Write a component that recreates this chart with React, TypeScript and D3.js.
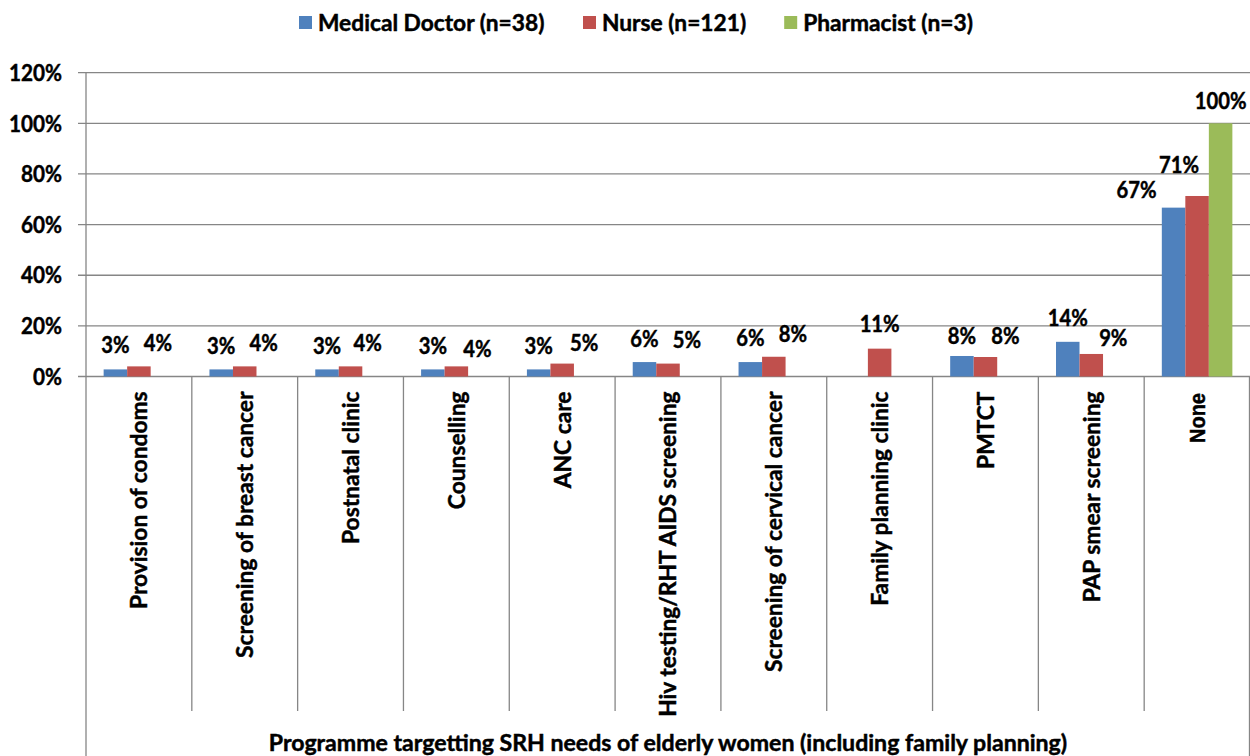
import React, { useMemo } from "react";
import * as d3 from "d3";

const categories = [
  "Provision of condoms",
  "Screening of breast cancer",
  "Postnatal clinic",
  "Counselling",
  "ANC care",
  "Hiv testing/RHT AIDS screening",
  "Screening of cervical cancer",
  "Family planning clinic",
  "PMTCT",
  "PAP smear screening",
  "None",
];
const seriesNames = ["Medical Doctor (n=38)", "Nurse (n=121)", "Pharmacist (n=3)"];
const doctorValues = [0.028, 0.028, 0.028, 0.028, 0.028, 0.057, 0.057, 0, 0.081, 0.137, 0.667];
const nurseValues = [0.04, 0.04, 0.04, 0.04, 0.051, 0.051, 0.078, 0.11, 0.077, 0.089, 0.713];
const pharmacistValues = [0, 0, 0, 0, 0, 0, 0, 0, 0, 0, 1.0];
const yTicks = [0, 0.2, 0.4, 0.6, 0.8, 1.0, 1.2];
const axisTitle = "Programme targetting SRH needs of elderly women (including family planning)";

// manual label nudges (as in the source chart)
const doctorLabelDx = [0, 0, 0, 0, 0, 0, 0, 0, 0, 0, -37];
const doctorLabelDy = [-25, -24.5, -24.5, -24.5, -24.5, -24, -24.5, 0, -21, -25, -18];
const nurseLabelDx = [19, 19, 17, 21, 22, 19, 19, 0, 20, 22, -18];
const nurseLabelDy = [-24, -24, -24.7, -18.7, -21.6, -24.6, -23.3, -25.2, -22, -16.7, -32];
const pharmLabelDx = [0, 0, 0, 0, 0, 0, 0, 0, 0, 0, 0];
const pharmLabelDy = [0, 0, 0, 0, 0, 0, 0, 0, 0, 0, -23.4];

const colors = ["#4F81BD", "#C0504D", "#9BBB59"];
const FONT = "Lato";
const TEXT_H = 22;

function measure(text: string, family: string, size: number) {
  const c = document.createElement("canvas").getContext("2d");
  if (!c) return text.length * size * 0.5;
  c.font = `bold ${size}px ${family}`;
  return c.measureText(text).width;
}

type TProps = {
  x: number;
  y: number;
  sx: number;
  rot?: number;
  anchor?: "start" | "middle" | "end";
  family?: string;
  size?: number;
  children: string;
};
function T({ x, y, sx, rot = 0, anchor = "middle", family = FONT, size = TEXT_H, children }: TProps) {
  return (
    <text
      transform={`translate(${x},${y}) rotate(${rot}) scale(${sx},1)`}
      textAnchor={anchor}
      dominantBaseline="central"
      fontSize={size}
      fontFamily={family}
      fontWeight="bold"
      fill="#000"
      stroke="#000"
      strokeWidth={0.45}
    >
      {children}
    </text>
  );
}

export default function App() {
  const W = 1250;
  const H = 756;
  const left = 86;
  const right = 1250;
  const y0 = 376.5;
  const yTop = 72.7;

  const sc = useMemo(
    () => ({
      tick: 53 / measure("120%", FONT, TEXT_H),
      label: 40 / measure("11%", FONT, TEXT_H),
      legend: 227 / measure("Medical Doctor (n=38)", FONT, TEXT_H),
      cat: 218 / measure("Provision of condoms", FONT, TEXT_H),
      title: 801 / measure(axisTitle, FONT, TEXT_H),
      none: 50 / measure("None", "Liberation Sans", 22),
    }),
    []
  );

  const legendWidths = useMemo(
    () => seriesNames.map((s) => measure(s, FONT, TEXT_H) * sc.legend),
    [sc]
  );

  const x = d3.scaleBand<string>().domain(categories).range([left, right]).paddingInner(0).paddingOuter(0);
  const bw = x.bandwidth();
  const groupW = (bw * 3) / 4.5;
  const x1 = d3
    .scaleBand<number>()
    .domain([0, 1, 2])
    .range([(bw - groupW) / 2, (bw + groupW) / 2])
    .padding(0);
  const y = d3.scaleLinear().domain([0, 1.2]).range([y0, yTop]);
  const fmt = d3.format(".0%");

  const series = [
    { values: doctorValues, dx: doctorLabelDx, dy: doctorLabelDy },
    { values: nurseValues, dx: nurseLabelDx, dy: nurseLabelDy },
    { values: pharmacistValues, dx: pharmLabelDx, dy: pharmLabelDy },
  ];

  const legendStart = 299;
  const sq = 13;
  const legendItems: { x: number; name: string; color: string }[] = [];
  let lx = legendStart;
  seriesNames.forEach((n, i) => {
    legendItems.push({ x: lx, name: n, color: colors[i] });
    lx += sq + 6 + legendWidths[i] + 38;
  });

  const grid = "#868686";

  return (
    <svg width={W} height={H} style={{ position: "absolute", left: 0, top: 0, background: "#fff" }}>
      <rect x={0} y={0} width={W} height={H} fill="#fff" />
      {legendItems.map((it, i) => (
        <g key={i}>
          <rect x={it.x} y={16} width={sq} height={sq} fill={it.color} />
          <T x={it.x + sq + 6} y={22.5} sx={sc.legend} anchor="start">
            {it.name}
          </T>
        </g>
      ))}
      {yTicks.map((t) => (
        <g key={t}>
          <line x1={78} x2={right} y1={y(t)} y2={y(t)} stroke={grid} strokeWidth={1.3} />
          <T x={62} y={y(t)} sx={sc.tick} anchor="end">
            {fmt(t)}
          </T>
        </g>
      ))}
      <line x1={left} x2={left} y1={yTop} y2={H} stroke={grid} strokeWidth={1.3} />
      <line x1={right - 0.5} x2={right - 0.5} y1={y0} y2={H} stroke={grid} strokeWidth={1.3} />
      {categories.slice(1).map((c) => (
        <line key={c} x1={x(c)!} x2={x(c)!} y1={y0} y2={711} stroke={grid} strokeWidth={1.3} />
      ))}
      {series.map((s, si) =>
        s.values.map((v, ci) =>
          v > 0 ? (
            <rect
              key={`${si}-${ci}`}
              x={x(categories[ci])! + x1(si)!}
              y={y(v)}
              width={x1.bandwidth()}
              height={y0 - y(v)}
              fill={colors[si]}
            />
          ) : null
        )
      )}
      {series.map((s, si) =>
        s.values.map((v, ci) =>
          v > 0 ? (
            <T
              key={`l-${si}-${ci}`}
              x={x(categories[ci])! + x1(si)! + x1.bandwidth() / 2 + s.dx[ci]}
              y={y(v) + s.dy[ci]}
              sx={sc.label}
            >
              {fmt(v)}
            </T>
          ) : null
        )
      )}
      {categories.map((c) => {
        const cx = x(c)! + bw / 2;
        const isNone = c === "None";
        return (
          <T
            key={c}
            x={cx}
            y={isNone ? 393 : 391.5}
            rot={-90}
            sx={isNone ? sc.none : sc.cat}
            anchor="end"
            family={isNone ? "Liberation Sans" : FONT}
            size={22}
          >
            {c}
          </T>
        );
      })}
      <T x={(left + right) / 2} y={742.5} sx={sc.title}>
        {axisTitle}
      </T>
    </svg>
  );
}
